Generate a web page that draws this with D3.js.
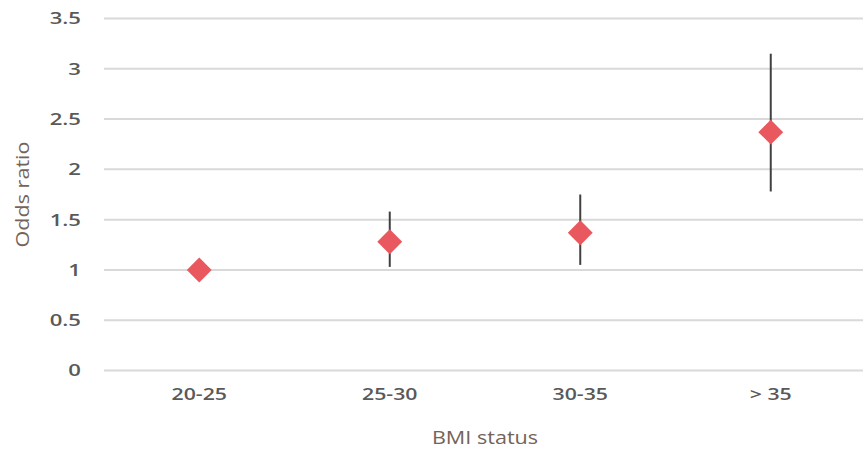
<!DOCTYPE html>
<html>
<head>
<meta charset="utf-8">
<script src="https://cdn.jsdelivr.net/npm/d3@7"></script>
<style>
    body { margin: 0; background: #fff; }
    svg { display: block; }
</style>
</head>
<body>
<div id="chart"></div>
<script>
const _WIDTH = 863
const _HEIGHT = 449

// data
const categories = ["20-25", "25-30", "30-35", "> 35"]
const oddsRatio = [1.0, 1.28, 1.37, 2.37]
const ciLow = [null, 1.03, 1.05, 1.78]
const ciHigh = [null, 1.58, 1.75, 3.15]
const yTicks = [0, 0.5, 1, 1.5, 2, 2.5, 3, 3.5]

const rows = categories.map((c, i) => ({ cat: c, or: oddsRatio[i], lo: ciLow[i], hi: ciHigh[i] }))

const svg = d3
    .select("#chart")
    .append("svg")
    .attr("width", _WIDTH)
    .attr("height", _HEIGHT)

const xScale = d3.scaleBand().domain(categories).range([104, 866])
const yScale = d3.scaleLinear().domain([0, 3.5]).range([370.5, 18.5])

const FONT = "'Open Sans', sans-serif"

// Gridlines
// ===================================
svg
    .append("g")
    .attr("class", "grid")
    .selectAll("line")
    .data(yTicks)
    .join("line")
    .attr("x1", 104)
    .attr("x2", _WIDTH)
    .attr("y1", d => yScale(d))
    .attr("y2", d => yScale(d))
    .attr("stroke", "#d9d9d9")
    .attr("stroke-width", 2)

// Y axis labels
// ===================================
const yAxis = svg
    .append("g")
    .attr("transform", "translate(81,0)")
    .call(d3.axisLeft(yScale).tickValues(yTicks).tickSize(0).tickPadding(0).tickFormat(d3.format("")))
yAxis.select(".domain").remove()
yAxis
    .selectAll("text")
    .attr("font-family", FONT)
    .attr("font-size", 17)
    .attr("font-weight", 600)
    .attr("fill", "#595959")
    .attr("text-anchor", "end")
    .attr("x", 0)
    .attr("transform", "scale(1.3,1)")

// X axis labels
// ===================================
const xAxis = svg
    .append("g")
    .attr("transform", "translate(0,395)")
    .call(d3.axisBottom(xScale).tickSize(0).tickPadding(0))
xAxis.select(".domain").remove()
xAxis
    .selectAll(".tick text")
    .attr("font-family", FONT)
    .attr("font-size", 17)
    .attr("font-weight", 600)
    .attr("fill", "#595959")
    .attr("dy", "0.32em")
    .attr("y", 0)
    .attr("transform", "scale(1.25,1)")

// Axis titles
// ===================================
const xMid = (xScale.range()[0] + xScale.range()[1]) / 2
svg
    .append("text")
    .attr("transform", `translate(${xMid},438) scale(1.2,1)`)
    .attr("text-anchor", "middle")
    .attr("dy", "0.35em")
    .attr("font-family", FONT)
    .attr("font-size", 18)
    .attr("fill", "#756358")
    .text("BMI status")

svg
    .append("text")
    .attr("transform", `translate(23,${(yScale(0) + yScale(3.5)) / 2}) rotate(-90) scale(1.2,1)`)
    .attr("text-anchor", "middle")
    .attr("dy", "0.35em")
    .attr("font-family", FONT)
    .attr("font-size", 18)
    .attr("fill", "#756358")
    .text("Odds ratio")

// Error bars
// ===================================
svg
    .append("g")
    .selectAll("line")
    .data(rows.filter(d => d.lo != null))
    .join("line")
    .attr("x1", d => xScale(d.cat) + xScale.bandwidth() / 2)
    .attr("x2", d => xScale(d.cat) + xScale.bandwidth() / 2)
    .attr("y1", d => yScale(d.lo))
    .attr("y2", d => yScale(d.hi))
    .attr("stroke", "#404040")
    .attr("stroke-width", 2)

// Markers
// ===================================
const diamond = d3.symbol().type(d3.symbolSquare).size(310)
svg
    .append("g")
    .selectAll("path")
    .data(rows)
    .join("path")
    .attr("d", diamond)
    .attr("transform", d => `translate(${xScale(d.cat) + xScale.bandwidth() / 2},${yScale(d.or)}) rotate(45)`)
    .attr("fill", "#e9585e")
</script>
</body>
</html>
